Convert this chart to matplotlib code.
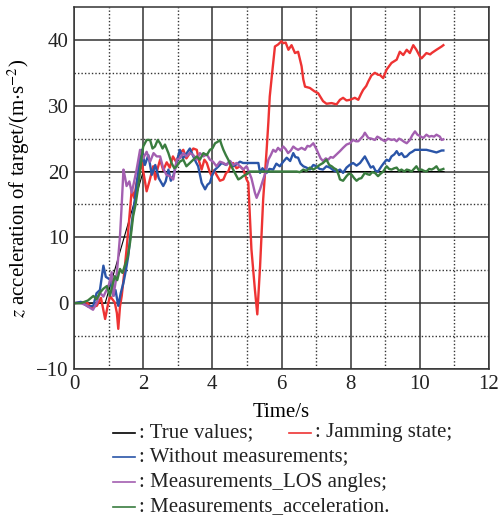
import numpy as np
import matplotlib
matplotlib.use('Agg')
import matplotlib.pyplot as plt
from matplotlib.lines import Line2D

plt.rcParams['font.family'] = ['Liberation Serif', 'DejaVu Serif']
plt.rcParams['mathtext.fontset'] = 'stix'

# True values
t_true = [0, 0.9, 2.0, 10.7]
v_true = [0, 0, 20, 20]

# Jamming state (red)
t_jam = [0, 0.2, 0.37, 0.5, 0.66, 0.78, 0.9, 0.97, 1.04, 1.18, 1.24, 1.28, 1.33, 1.38, 1.45,
         1.52, 1.62, 1.67, 1.74, 1.81, 1.96, 2.02, 2.1, 2.18, 2.29, 2.35, 2.42, 2.49, 2.58,
         2.68, 2.77, 2.86, 2.95, 3.06, 3.16, 3.25, 3.35, 3.45, 3.55, 3.62, 3.69, 3.77, 3.84,
         3.92, 3.98, 4.05, 4.12, 4.22, 4.32, 4.4, 4.46, 4.53, 4.6, 4.7, 4.8, 4.9, 4.99, 5.04,
         5.13, 5.23, 5.3, 5.38, 5.47, 5.57, 5.62, 5.66, 5.72, 5.81, 5.9, 6.0, 6.05, 6.12, 6.2,
         6.29, 6.39, 6.48, 6.58, 6.63, 6.68, 6.82, 6.95, 7.06, 7.2, 7.3, 7.45, 7.59, 7.69,
         7.78, 7.88, 7.98, 8.12, 8.22, 8.3, 8.36, 8.45, 8.51, 8.6, 8.7, 8.79, 8.84, 8.94, 9.04,
         9.18, 9.33, 9.42, 9.52, 9.62, 9.71, 9.81, 9.9, 10.0, 10.05, 10.19, 10.3, 10.34, 10.48,
         10.63, 10.68]
v_jam = [0, 0.1, 0.1, -0.6, -0.4, 0.8, -2.4, -0.5, 1.1, 0.1, -1.5, -3.9, -0.5, 1.1, 4.5,
         8.2, 14.2, 17.3, 16.0, 18.3, 21.3, 19.5, 17.0, 18.5, 20.8, 18.8, 20.5, 21.8, 20.2,
         21.4, 20.6, 22.3, 21.5, 22.8, 23.3, 22.0, 22.8, 23.5, 23.3, 21.5, 20.3, 21.8, 21.3,
         20.0, 19.3, 20.2, 19.5, 18.6, 18.8, 19.8, 20.0, 21.0, 21.3, 20.5, 20.8, 20.3, 18.8, 18.3,
         8.2, 2.1, -1.7, 5.6, 15.8, 23.3, 27.5, 31.4, 34.5, 39.0, 39.3, 39.8, 39.5, 39.6, 38.5,
         39.2, 38.0, 38.2, 36.0, 34.0, 32.9, 32.7, 32.2, 31.9, 30.7, 30.3, 30.4, 30.2, 30.9,
         31.2, 30.8, 30.9, 31.2, 30.9, 31.8, 32.4, 33.0, 33.7, 34.6, 35.0, 34.7, 34.7, 34.2, 35.5,
         36.5, 37.0, 38.2, 37.7, 38.5, 38.0, 39.2, 38.5, 37.5, 37.2, 38.0, 37.8, 38.0, 38.5,
         39.0, 39.2]

# Without measurements (blue)
t_wo = [0, 0.2, 0.4, 0.56, 0.65, 0.75, 0.85, 0.92, 1.04, 1.14, 1.2, 1.28, 1.35, 1.43, 1.5,
        1.57, 1.67, 1.76, 1.81, 1.86, 1.92, 1.96, 2.05, 2.15, 2.25, 2.35, 2.45, 2.58, 2.65,
        2.73, 2.8, 2.87, 2.95, 3.06, 3.15, 3.26, 3.35, 3.45, 3.52, 3.59, 3.69, 3.79, 3.86,
        3.93, 4.0, 4.08, 4.18, 4.27, 4.4, 4.51, 4.6, 4.7, 4.8, 4.89, 4.99, 5.33, 5.38, 5.45,
        5.57, 5.65, 5.76, 5.85, 5.95, 6.05, 6.15, 6.25, 6.34, 6.4, 6.48, 6.55, 6.63, 6.72,
        6.82, 6.92, 7.01, 7.1, 7.2, 7.3, 7.4, 7.5, 7.59, 7.69, 7.78, 7.88, 7.97, 8.07, 8.17,
        8.27, 8.41, 8.51, 8.58, 8.65, 8.72, 8.79, 8.89, 8.96, 9.04, 9.11, 9.18, 9.26, 9.33,
        9.4, 9.47, 9.55, 9.62, 9.71, 9.78, 9.86, 10.0, 10.19, 10.34, 10.48, 10.63, 10.68]
v_wo = [0, 0.2, -0.5, -0.4, 1.5, 2.0, 5.7, 4.0, 3.6, 1.1, 2.0, -0.4, 1.5, 3.1, 5.0,
        7.2, 12.2, 15.8, 18.0, 20.3, 22.5, 23.3, 21.0, 22.5, 19.5, 21.0, 19.0, 17.8, 18.5,
        20.3, 18.6, 19.3, 21.0, 23.3, 22.0, 22.8, 23.5, 22.3, 21.5, 20.8, 18.3, 17.3, 18.0,
        18.3, 19.5, 20.3, 20.8, 21.3, 21.0, 21.6, 20.8, 21.1, 21.5, 21.3, 21.3, 21.3, 19.8, 20.5,
        19.8, 20.4, 20.3, 21.2, 20.8, 21.5, 22.1, 21.6, 22.8, 22.2, 22.1, 21.2, 20.8, 20.6,
        20.3, 21.0, 20.8, 20.4, 20.3, 20.8, 20.6, 20.2, 20.0, 20.3, 19.8, 20.6, 21.0, 21.3, 20.9,
        21.3, 22.3, 21.3, 20.6, 20.8, 20.1, 20.0, 20.8, 21.3, 21.8, 21.6, 22.3, 22.6, 23.1,
        22.5, 22.8, 22.2, 22.3, 22.8, 23.0, 23.3, 23.3, 23.3, 23.1, 22.9, 23.2, 23.2]

# Measurements_LOS angles (purple)
t_los = [0, 0.2, 0.35, 0.46, 0.55, 0.66, 0.75, 0.85, 0.95, 1.02, 1.09, 1.14, 1.23, 1.28,
         1.33, 1.38, 1.43, 1.48, 1.52, 1.6, 1.67, 1.74, 1.81, 1.91, 2.0, 2.1, 2.2, 2.3, 2.39,
         2.49, 2.58, 2.67, 2.77, 2.87, 2.97, 3.06, 3.16, 3.25, 3.35, 3.45, 3.55, 3.64, 3.74,
         3.84, 3.93, 4.02, 4.12, 4.22, 4.32, 4.41, 4.51, 4.6, 4.7, 4.8, 4.89, 4.99, 5.09, 5.13,
         5.23, 5.28, 5.38, 5.47, 5.55, 5.62, 5.69, 5.76, 5.83, 5.9, 5.97, 6.05, 6.12, 6.19,
         6.27, 6.34, 6.41, 6.48, 6.58, 6.68, 6.75, 6.82, 6.92, 7.0, 7.06, 7.13, 7.2, 7.28,
         7.35, 7.42, 7.49, 7.59, 7.69, 7.78, 7.88, 7.98, 8.07, 8.15, 8.22, 8.29, 8.36, 8.41,
         8.51, 8.6, 8.7, 8.77, 8.84, 8.92, 8.99, 9.08, 9.18, 9.26, 9.33, 9.4, 9.47, 9.55, 9.62,
         9.71, 9.78, 9.86, 9.93, 10.0, 10.1, 10.19, 10.27, 10.34, 10.41, 10.48, 10.58, 10.63,
         10.68]
v_los = [0, 0.0, -0.3, -0.7, -1.0, 0.1, 1.6, 1.0, 2.1, 3.0, 4.7, 1.1, 4.1, 7.0,
         10.2, 15.0, 20.3, 19.0, 17.8, 18.5, 16.8, 18.5, 20.3, 23.3, 22.0, 23.0, 21.5, 22.8, 22.3,
         22.3, 20.5, 19.5, 19.3, 18.8, 21.8, 22.0, 22.8, 22.3, 22.8, 22.5, 21.8, 22.8, 22.3,
         22.6, 21.8, 21.5, 20.8, 21.5, 21.3, 21.0, 21.6, 21.0, 21.3, 20.8, 20.3, 20.8, 19.5, 19.0,
         16.8, 16.0, 17.3, 18.8, 20.0, 21.8, 22.5, 23.3, 23.0, 23.6, 23.2, 23.8, 23.4, 22.8,
         23.2, 23.8, 23.5, 23.3, 23.6, 23.3, 23.9, 23.8, 24.3, 23.5, 22.8, 22.0, 21.6, 22.0,
         21.8, 22.2, 22.1, 22.6, 23.1, 23.6, 24.1, 24.3, 24.8, 24.6, 24.6, 25.0, 25.4, 25.9,
         25.1, 25.0, 24.8, 25.3, 25.1, 24.8, 24.6, 25.0, 24.8, 24.9, 24.6, 25.0, 24.8, 24.5, 24.3,
         24.8, 25.5, 26.1, 25.6, 25.4, 25.1, 25.6, 25.3, 25.4, 25.3, 25.6, 25.3, 24.8,
         24.9]

# Measurements_acceleration (green)
t_acc = [0, 0.2, 0.4, 0.56, 0.65, 0.75, 0.85, 0.95, 1.04, 1.1, 1.18, 1.25, 1.33, 1.4, 1.47,
         1.55, 1.62, 1.71, 1.78, 1.86, 1.96, 2.0, 2.1, 2.2, 2.27, 2.34, 2.42, 2.49, 2.56, 2.63,
         2.73, 2.82, 2.9, 2.97, 3.06, 3.16, 3.25, 3.35, 3.45, 3.55, 3.64, 3.74, 3.84, 3.93, 4.0,
         4.08, 4.15, 4.22, 4.27, 4.32, 4.39, 4.46, 4.53, 4.6, 4.68, 4.75, 4.82, 4.89, 4.99, 5.09,
         6.3, 6.44, 6.53, 6.63, 6.72, 6.82, 6.92, 7.01, 7.1, 7.2, 7.3, 7.38, 7.45, 7.52, 7.59,
         7.65, 7.69, 7.78, 7.88, 7.95, 8.03, 8.1, 8.17, 8.24, 8.31, 8.41, 8.48, 8.55, 8.62, 8.7,
         8.79, 8.87, 8.94, 9.04, 9.11, 9.18, 9.26, 9.33, 9.4, 9.47, 9.55, 9.62, 9.69, 9.76, 9.83,
         9.9, 9.97, 10.05, 10.12, 10.19, 10.27, 10.34, 10.41, 10.48, 10.55, 10.63, 10.68]
v_acc = [0, 0.0, 0.4, 1.1, 0.6, 1.6, 2.2, 2.6, 1.1, 2.5, 4.1, 3.5, 5.2, 4.6, 5.7,
         7.0, 9.2, 13.2, 15.0, 17.8, 22.3, 23.8, 24.8, 24.8, 23.5, 23.8, 24.8, 24.3, 23.5, 24.1,
         22.8, 21.3, 20.5, 20.8, 21.5, 21.8, 20.8, 21.3, 21.8, 22.3, 21.8, 22.8, 22.5, 23.3, 23.5,
         24.3, 24.5, 24.8, 24.0, 23.3, 22.5, 21.8, 21.0, 20.3, 19.5, 18.8, 19.0, 19.3, 19.6, 20.0,
         20.0, 20.0, 19.9, 20.3, 20.1, 20.6, 20.3, 20.6, 21.0, 21.3, 21.8, 21.0, 20.8, 20.5, 20.3,
         19.5, 18.8, 18.6, 19.3, 19.7, 19.5, 19.0, 18.6, 18.9, 19.0, 19.8, 19.6, 19.5, 19.9, 19.8,
         19.3, 19.7, 20.0, 20.8, 20.4, 20.3, 20.5, 20.6, 20.1, 20.3, 20.0, 20.3, 20.2, 20.0, 20.4,
         20.8, 20.2, 20.3, 20.1, 20.0, 20.4, 20.3, 20.5, 20.8, 20.2, 20.3, 20.4]

c_true = 'black'
c_jam = '#ee3333'
c_wo = '#2a55a8'
c_los = '#a35fb0'
c_acc = '#3a7d3f'

fig = plt.figure(figsize=(4.99, 5.22), dpi=100)
ax = fig.add_axes([0.1483, 0.2931, 0.8317, 0.6935])

lw = 1.7
ax.plot(t_true, v_true, color=c_true, lw=0.8)
ax.plot(t_jam, v_jam, color=c_jam, lw=lw)
ax.plot(t_wo, v_wo, color=c_wo, lw=lw)
ax.plot(t_los, v_los, color=c_los, lw=lw)
ax.plot(t_acc, v_acc, color=c_acc, lw=lw)

ax.set_xlim(0, 12)
ax.set_ylim(-10, 45)
ax.set_xticks(np.arange(0, 13, 2))
ax.set_yticks(np.arange(-10, 41, 10))
ax.set_xticks(np.arange(1, 12, 2), minor=True)
ax.set_yticks(np.arange(-5, 41, 10), minor=True)
ax.grid(which='major', color='#333333', lw=1.1, ls='-')
ax.grid(which='minor', color='#333333', lw=1.0, ls=(0, (1, 1.5)))
ax.set_axisbelow(True)
ax.tick_params(which='both', direction='in', length=0, labelsize=15, colors='#222222', pad=4)
for s in ax.spines.values():
    s.set_color('#333333')
    s.set_linewidth(1.1)

ax.set_xlabel('Time/s', fontsize=15)
ax.set_ylabel('$z$ acceleration of target/(m$\\cdot$s$^{-2}$)', fontsize=15)
ax.xaxis.set_label_coords(0.5, -0.093)
ax.yaxis.set_label_coords(-0.102, 0.5)

# legend drawn beneath the axes
def legend_entry(x, y, color, text):
    fig.add_artist(Line2D([x / 499, (x + 22) / 499], [1 - y / 522, 1 - y / 522],
                          color=color, lw=1.2))
    fig.text((x + 26) / 499, 1 - y / 522, ': ' + text, fontsize=15,
             va='center', ha='left', color='#222222')

legend_entry(113, 433, c_true, 'True values;')
legend_entry(289, 433, c_jam, 'Jamming state;')
legend_entry(113, 457, c_wo, 'Without measurements;')
legend_entry(113, 482, c_los, 'Measurements_LOS angles;')
legend_entry(113, 507, c_acc, 'Measurements_acceleration.')

fig.savefig('out.png', dpi=100)
